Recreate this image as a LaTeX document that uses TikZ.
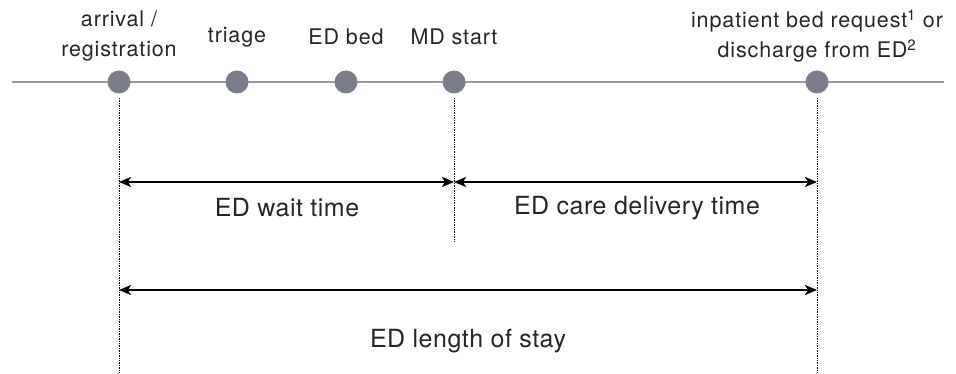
\documentclass[tikz,border=0pt]{standalone}
\usepackage{fontspec}
\setmainfont{TeX Gyre Heros}
\newfontfamily\toplabfont[LetterSpace=4]{TeX Gyre Heros}
\newfontfamily\spanlabfont[LetterSpace=2]{TeX Gyre Heros}
\usetikzlibrary{arrows.meta}
\definecolor{dotc}{HTML}{7B7D8A}
\definecolor{linec}{HTML}{9A9A9A}
\begin{document}
\begin{tikzpicture}[x=1pt,y=-1pt,
  ev/.style={circle,fill=dotc,inner sep=0pt,minimum size=23pt},
  toplab/.style={font=\toplabfont\fontsize{21.5}{30}\selectfont,align=center,inner sep=0pt,text=black!85},
  span/.style={line width=1.8pt,{Stealth[length=12pt,width=10pt,inset=3pt]}-{Stealth[length=12pt,width=10pt,inset=3pt]}},
  guide/.style={densely dotted,line width=0.7pt},
  spanlab/.style={font=\spanlabfont\fontsize{25}{28}\selectfont,inner sep=0pt,text=black!85}]
\useasboundingbox (0,0) rectangle (956,374);
\coordinate (L) at (12,82);
\coordinate (R) at (944,82);
\draw[linec,line width=1.2pt] (L) -- (R);
\node[ev] (a) at (119,82) {};
\node[ev] (t) at (237,82) {};
\node[ev] (b) at (346,82) {};
\node[ev] (m) at (454,82) {};
\node[ev] (d) at (817,82) {};
\node[toplab] (la) at (119,36) {arrival /\\registration};
\node[toplab] (lt) at (237,37) {triage};
\node[toplab] (lb) at (346,37) {ED bed};
\node[toplab] (lm) at (454,37) {MD start};
\node[toplab] (ld) at (817,36) {inpatient bed request\textsuperscript{1} or\\discharge from ED\textsuperscript{2}};
\coordinate (a1) at (119,98); \coordinate (a2) at (119,372);
\coordinate (m1) at (454,98); \coordinate (m2) at (454,241);
\coordinate (d1) at (817,98); \coordinate (d2) at (817,372);
\draw[guide] (a1) -- (a2);
\draw[guide] (m1) -- (m2);
\draw[guide] (d1) -- (d2);
\coordinate (p1) at (119,182); \coordinate (p2) at (454,182); \coordinate (p3) at (817,182);
\coordinate (q1) at (119,290); \coordinate (q2) at (817,290);
\draw[span] (p1) -- (p2);
\draw[span] (p2) -- (p3);
\draw[span] (q1) -- (q2);
\node[spanlab] (w) at (287,208) {ED wait time};
\node[spanlab] (c) at (637,208) {ED care delivery time};
\node[spanlab] (s) at (468,341) {ED length of stay};
\end{tikzpicture}
\end{document}
